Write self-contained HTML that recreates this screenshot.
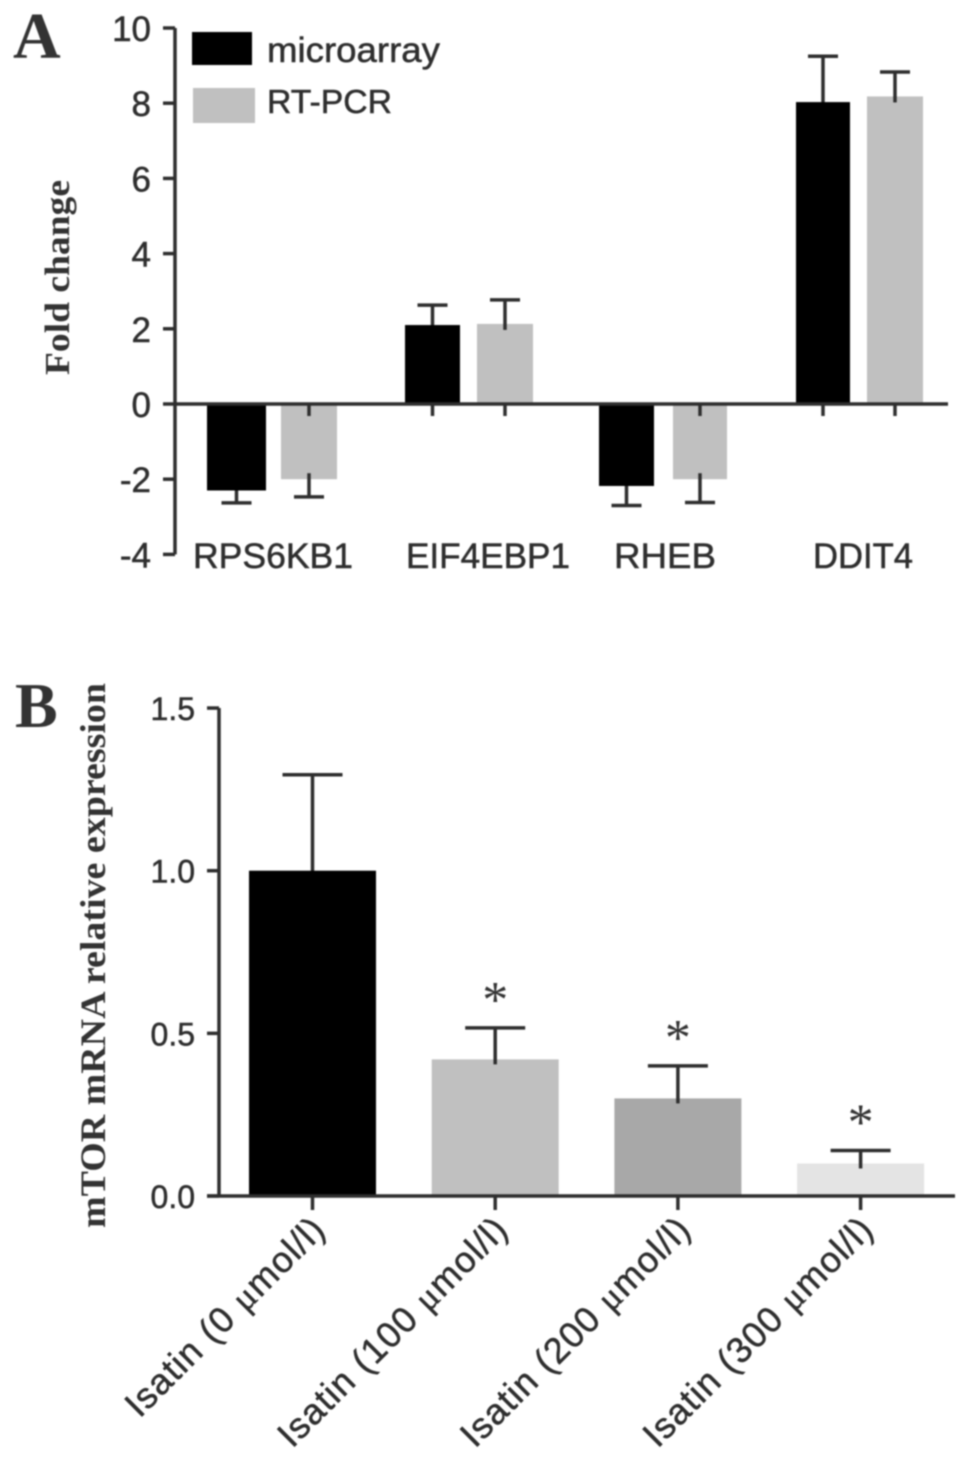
<!DOCTYPE html>
<html lang="en">
<head>
<meta charset="utf-8">
<title>Fold change and mTOR expression</title>
<style>
html,body{margin:0;padding:0;background:#fff;width:969px;height:1462px;overflow:hidden}
svg{display:block;filter:blur(0.8px)}
.sans{font-family:"Liberation Sans",sans-serif;fill:#2e2e2e;stroke:#2e2e2e;stroke-width:0.5px}
.serif{font-family:"Liberation Serif",serif;fill:#333;font-weight:bold}
</style>
</head>
<body>
<svg id="figure" xmlns="http://www.w3.org/2000/svg" width="969" height="1462" viewBox="0 0 969 1462">
  <text class="serif" x="13" y="58" font-size="66">A</text>
  <text class="serif" x="15" y="727" font-size="64">B</text>
  <text class="serif" transform="translate(69,375) rotate(-90)" font-size="35" textLength="195" lengthAdjust="spacingAndGlyphs">Fold change</text>
  <text class="serif" transform="translate(105,1228) rotate(-90)" font-size="36" textLength="545" lengthAdjust="spacingAndGlyphs">mTOR mRNA relative expression</text>
  <rect x="192" y="32" width="60" height="33" fill="#000"/>
  <rect x="193" y="88" width="62" height="35" fill="#c0c0c0"/>
  <text class="sans" x="267" y="62" font-size="35" textLength="173" lengthAdjust="spacingAndGlyphs">microarray</text>
  <text class="sans" x="267" y="113" font-size="33" textLength="125" lengthAdjust="spacingAndGlyphs">RT-PCR</text>
  <g id="panel-a"></g>
  <g id="panel-b"></g>
</svg>
<script>
// Panel A data
const genes = ['RPS6KB1', 'EIF4EBP1', 'RHEB', 'DDIT4'];
const microarrayValues = [-2.3, 2.1, -2.18, 8.03];
const microarrayErrors = [-2.63, 2.63, -2.7, 9.25];
const rtPcrValues = [-2, 2.13, -2, 8.18];
const rtPcrErrors = [-2.47, 2.77, -2.62, 8.83];
const panelATicks = [10, 8, 6, 4, 2, 0, -2, -4];

// Panel B data
const doses = ['0', '100', '200', '300'];
const expressionValues = [1, 0.42, 0.3, 0.1];
const expressionErrors = [1.295, 0.517, 0.4, 0.14];
const significant = [false, true, true, true];
const panelBTicks = ['1.5', '1.0', '0.5', '0.0'];

const NS = 'http://www.w3.org/2000/svg';
const LINE = '#2e2e2e';

function mk(parent, tag, attrs, text) {
  const el = document.createElementNS(NS, tag);
  for (const k in attrs) el.setAttribute(k, attrs[k]);
  if (text !== undefined) el.textContent = text;
  parent.appendChild(el);
  return el;
}
function seg(parent, x1, y1, x2, y2) {
  return mk(parent, 'line', {x1: x1, y1: y1, x2: x2, y2: y2, stroke: LINE, 'stroke-width': 3.5});
}

/* ---------- Panel A ---------- */
const a = document.getElementById('panel-a');
const ay = v => 404 - v * 37.6;
const aGroupX = i => [207, 405, 599, 796][i];
const aBarW = [59, 55, 55, 54];
const aGreyX = i => [281, 477, 673, 867][i];
const aGreyW = [56, 56, 54, 56];

function barA(i, x, w, value, err, fill, series) {
  const top = Math.min(ay(value), ay(0));
  const bar = mk(a, 'rect', {x: x, y: top, width: w, height: Math.abs(ay(value) - ay(0)), fill: fill});
  
  
  const cx = x + w / 2;
  const dir = value >= 0 ? 1 : -1;
  const stem = seg(a, cx, ay(err), cx, ay(value) + dir * 6);
  
  
  const cap = seg(a, cx - 15, ay(err), cx + 15, ay(err));
  
  
  const tick = seg(a, cx, ay(0), cx, ay(0) + 12);
  
  
  if (fill === '#000') a.appendChild(bar);
}
genes.forEach((g, i) => {
  barA(i, aGroupX(i), aBarW[i], microarrayValues[i], microarrayErrors[i], '#000', 'microarray');
  barA(i, aGreyX(i), aGreyW[i], rtPcrValues[i], rtPcrErrors[i], '#c0c0c0', 'rt-pcr');
  const label = mk(a, 'text', {class: 'sans', x: [273, 488, 665, 863][i], y: 568, 'font-size': 35, 'text-anchor': 'middle', textLength: [160, 164, 102, 100][i], lengthAdjust: 'spacingAndGlyphs'}, g);
  
  
});
const aYAxis = seg(a, 175, ay(10), 175, ay(-4));


const aXAxis = seg(a, 175, ay(0), 948, ay(0));


panelATicks.forEach(t => {
  const tick = seg(a, 163, ay(t), 175, ay(t));
  
  
  const label = mk(a, 'text', {class: 'sans', x: 151, y: ay(t) + 13, 'font-size': 35, 'text-anchor': 'end'}, String(t));
  
  
});

/* ---------- Panel B ---------- */
const b = document.getElementById('panel-b');
const by = v => 1196 - v * 325.3;
const bX = i => 249 + i * 182.7;
const bW = 127;
const bFills = ['#000', '#c0c0c0', '#a8a8a8', '#e4e4e4'];

doses.forEach((d, i) => {
  const x = bX(i);
  const cx = x + bW / 2;
  const bar = mk(b, 'rect', {x: x, y: by(expressionValues[i]), width: bW, height: by(0) - by(expressionValues[i]), fill: bFills[i]});
  
  
  const stem = seg(b, cx, by(expressionErrors[i]), cx, by(expressionValues[i]) + 5);
  
  
  const cap = seg(b, cx - 30, by(expressionErrors[i]), cx + 30, by(expressionErrors[i]));
  
  
  if (bFills[i] === '#000') b.appendChild(bar);
  const tick = seg(b, cx, by(0), cx, by(0) + 14);
  
  
  if (significant[i]) {
    const star = mk(b, 'text', {x: cx, y: by(expressionErrors[i]) - 11, 'font-size': 52, 'text-anchor': 'middle', fill: '#333', style: 'font-family:"Liberation Serif",serif'}, '*');
    
    
  }
  const label = mk(b, 'text', {class: 'sans', 'font-size': 36, 'letter-spacing': 1.2, 'text-anchor': 'end', transform: 'translate(' + (cx + 15) + ',1231) rotate(-45)'});
  
  
  mk(label, 'tspan', {}, 'Isatin (' + d + ' ');
  mk(label, 'tspan', {style: 'font-family:"Liberation Serif",serif'}, '\u03bc');
  mk(label, 'tspan', {}, 'mol/l)');
});
const bYAxis = seg(b, 219, by(1.5), 219, by(0));


const bXAxis = seg(b, 207, by(0), 955, by(0));


panelBTicks.forEach(t => {
  const v = parseFloat(t);
  const tick = seg(b, 207, by(v), 219, by(v));
  
  
  const label = mk(b, 'text', {class: 'sans', x: 195, y: by(v) + 12, 'font-size': 32, 'text-anchor': 'end'}, t);
  
  
});
</script>
</body>
</html>
